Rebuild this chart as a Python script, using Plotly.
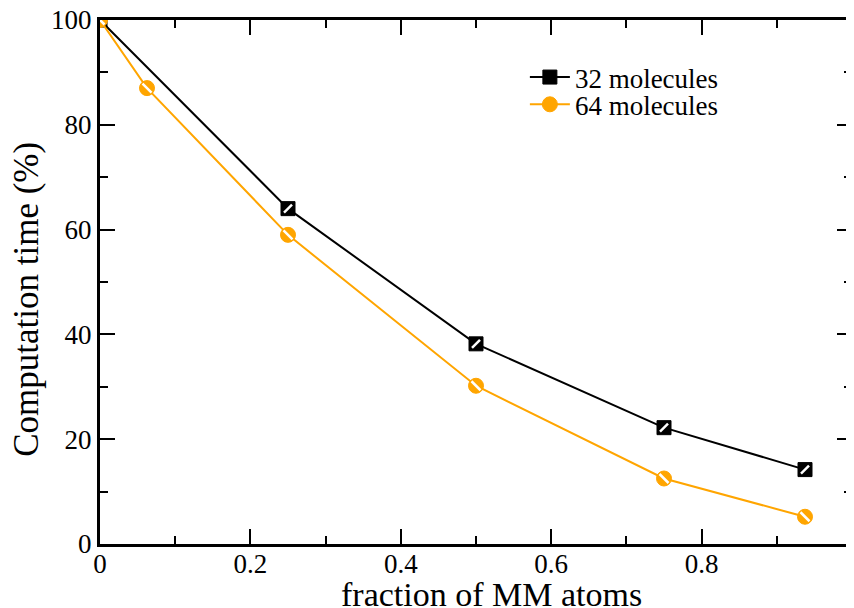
import plotly.graph_objects as go

x32 = [0, 0.25, 0.5, 0.75, 0.9375]
y32 = [100, 64, 38.2, 22.2, 14.2]
x64 = [0, 0.0625, 0.25, 0.5, 0.75, 0.9375]
y64 = [100, 87, 59, 30.2, 12.5, 5.2]
xticks = [0, 0.2, 0.4, 0.6, 0.8, 1]
xticklabels = ["0", "0.2", "0.4", "0.6", "0.8", "1"]
yticks = [0, 20, 40, 60, 80, 100]
xtitle = "fraction of MM atoms"
ytitle = "Computation time (%)"

BLACK = "#000000"
ORANGE = "#FFA500"
FONT = "Liberation Serif"

fig = go.Figure()
fig.add_trace(go.Scatter(x=x32, y=y32, mode="lines+markers", name="32 molecules",
                         legend="legend",
                         line=dict(color=BLACK, width=2),
                         marker=dict(symbol="square", size=14, color=BLACK,
                                     line=dict(color=BLACK, width=1))))
fig.add_trace(go.Scatter(x=x32, y=y32, mode="markers", showlegend=False, hoverinfo="skip",
                         marker=dict(symbol="line-ne", size=8, color="white",
                                     line=dict(color="white", width=2.5))))
fig.add_trace(go.Scatter(x=x64, y=y64, mode="lines+markers", name="64 molecules",
                         legend="legend2",
                         line=dict(color=ORANGE, width=2),
                         marker=dict(symbol="circle", size=15, color=ORANGE,
                                     line=dict(color=ORANGE, width=1))))
fig.add_trace(go.Scatter(x=x64, y=y64, mode="markers", showlegend=False, hoverinfo="skip",
                         marker=dict(symbol="line-nw", size=9, color="white",
                                     line=dict(color="white", width=2.5))))

axis_common = dict(showgrid=False, zeroline=False, showline=True, linecolor=BLACK,
                   linewidth=3, mirror="allticks", ticks="inside", ticklen=15,
                   tickwidth=2, tickcolor=BLACK, ticklabeloverflow="allow",
                   automargin=False,
                   tickfont=dict(family=FONT, size=27, color=BLACK))

legend_common = dict(xanchor="left", yanchor="top", bgcolor="rgba(0,0,0,0)",
                     font=dict(family=FONT, size=27, color=BLACK), itemwidth=40)

fig.update_layout(
    width=846, height=600,
    margin=dict(l=92, r=2, t=12, b=64),
    paper_bgcolor="white", plot_bgcolor="white",
    font=dict(family=FONT, color=BLACK),
    xaxis=dict(range=[0, 1], tickvals=xticks, ticktext=xticklabels,
               ticklabelstandoff=-6,
               minor=dict(ticks="inside", ticklen=8, tickwidth=2, dtick=0.1, tickcolor=BLACK),
               **axis_common),
    yaxis=dict(range=[0, 100], tickvals=yticks,
               minor=dict(ticks="inside", ticklen=8, tickwidth=2, dtick=10, tickcolor=BLACK),
               **axis_common),
    legend=dict(x=0.565, y=0.937, **legend_common),
    legend2=dict(x=0.565, y=0.885, **legend_common),
    showlegend=True,
    annotations=[
        dict(text=xtitle, xref="paper", yref="paper", x=0.52, y=0, yshift=-50,
             xanchor="center", yanchor="middle", showarrow=False,
             font=dict(family=FONT, size=34, color=BLACK)),
        dict(text=ytitle, xref="paper", yref="paper", x=0, y=0.466, xshift=-73,
             xanchor="center", yanchor="middle", textangle=-90, showarrow=False,
             font=dict(family=FONT, size=35, color=BLACK)),
    ],
)

fig.write_html("out.html")
